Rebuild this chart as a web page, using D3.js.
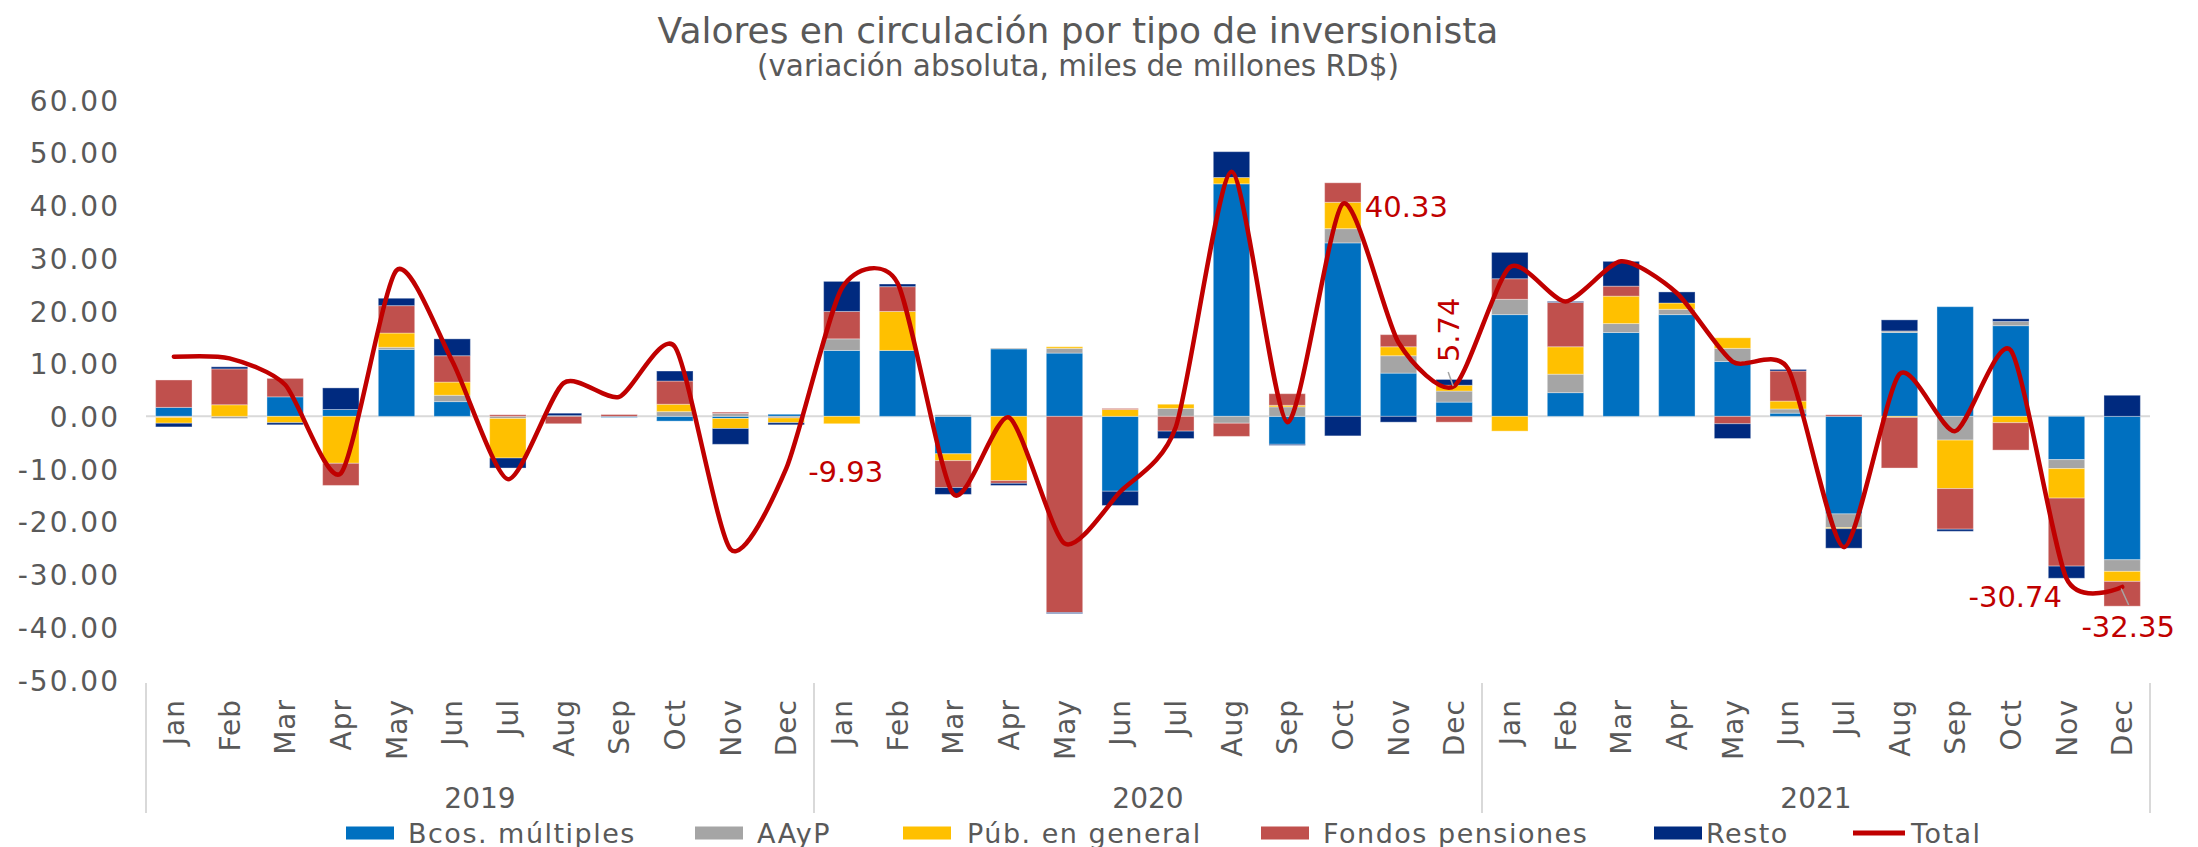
<!DOCTYPE html>
<html>
<head>
<meta charset="utf-8">
<script src="https://cdn.jsdelivr.net/npm/d3@7"></script>
<style>
  html, body { margin: 0; padding: 0; background: #ffffff; }
  svg { display: block; font-family: "DejaVu Sans", Verdana, sans-serif; }
</style>
</head>
<body>
<svg id="chart" width="2198" height="847"></svg>
<script>
// ---- data (miles de millones RD$) ----
const years = ["2019", "2020", "2021"];
const months = ["Jan", "Feb", "Mar", "Apr", "May", "Jun", "Jul", "Aug", "Sep", "Oct", "Nov", "Dec"];

const seriesNames = ["Bcos. múltiples", "AAyP", "Púb. en general", "Fondos pensiones", "Resto"];
const seriesColors = ["#0070C0", "#A5A5A5", "#FFC000", "#C0504D", "#002A7F"];

const bcosMultiples = [
  1.7, 0.0, 3.7, 1.3, 12.7, 2.8, 0.0, 0.15, -0.2, -0.9, -0.4, 0.4,
  12.5, 12.5, -7.1, 12.8, 12.0, -14.2, 0.0, 44.1, -5.3, 32.9, 8.2, 2.7,
  19.3, 4.5, 15.9, 19.3, 10.4, 0.6, -18.5, 15.9, 20.8, 17.2, -8.2, -27.2
];
const aayp = [
  -0.2, -0.4, 0.0, 0.0, 0.4, 1.2, -0.4, 0.0, 0.0, 0.9, 0.55, -0.3,
  2.2, 0.0, 0.3, 0.15, 0.9, 0.0, 1.5, -1.3, 1.8, 2.7, 3.3, 2.1,
  2.9, 3.5, 1.7, 1.0, 2.5, 0.8, -2.6, 0.3, -4.5, 0.8, -1.7, -2.2
];
const pubGeneral = [
  -1.1, 2.2, -1.2, -8.9, 2.7, 2.5, -7.5, 0.0, 0.0, 1.4, -1.9, -0.9,
  -1.4, 7.4, -1.3, -12.2, 0.3, 1.3, 0.8, 1.2, 0.3, 5.0, 1.7, 1.1,
  -2.8, 5.2, 5.2, 1.2, 2.0, 1.5, -0.2, -0.2, -9.2, -1.2, -5.6, -1.9
];
const fondosPensiones = [
  5.2, 6.8, 3.5, -4.2, 5.2, 5.0, 0.3, -1.4, 0.35, 4.4, 0.25, 0.0,
  5.2, 4.7, -5.1, -0.5, -37.2, 0.2, -2.8, -2.5, 2.2, 3.7, 2.3, -1.1,
  3.9, 8.4, 1.9, 0.0, -1.4, 5.7, 0.3, -9.6, -7.7, -5.2, -12.9, -4.7
];
const resto = [
  -0.7, 0.4, -0.4, 4.1, 1.4, 3.2, -1.9, 0.45, 0.0, 1.9, -3.0, -0.4,
  5.7, 0.5, -1.3, -0.4, -0.2, -2.7, -1.4, 4.9, -0.2, -3.7, -1.1, 1.1,
  5.0, 0.2, 4.7, 2.1, -2.8, 0.3, -3.7, 2.1, -0.4, 0.5, -2.3, 4.0
];
const total = [
  11.3, 11.0, 6.0, -10.8, 27.7, 10.5, -11.9, 6.3, 3.7, 13.2, -25.2, -9.93,
  24.3, 25.3, -14.7, -0.2, -24.1, -14.3, -2.0, 46.4, -1.1, 40.33, 14.0, 5.74,
  28.3, 21.8, 29.4, 23.4, 10.4, 9.0, -24.8, 8.0, -2.8, 12.5, -30.74, -32.35
];
const yTicks = [60, 50, 40, 30, 20, 10, 0, -10, -20, -30, -40, -50];

// ---- layout ----
const svg = d3.select("#chart");
const plotLeft = 146, plotRight = 2150, plotTop = 100, plotBottom = 680;
const axisY = 683;
const grey = "#595959";

const seriesKeys = ["bcos", "aayp", "pub", "fondos", "resto"];
const seriesValues = [bcosMultiples, aayp, pubGeneral, fondosPensiones, resto];

const categories = [];
years.forEach(yr => months.forEach(m => categories.push({ key: yr + "-" + m, year: yr, month: m })));

const rows = categories.map((c, i) => {
  const r = { key: c.key };
  seriesKeys.forEach((k, s) => { r[k] = seriesValues[s][i]; });
  return r;
});

const x = d3.scaleBand()
  .domain(categories.map(c => c.key))
  .range([plotLeft, plotRight])
  .paddingInner(0.346)
  .paddingOuter(0.173);

const y = d3.scaleLinear().domain([-50, 60]).range([plotBottom, plotTop]);
const bw = x.bandwidth();
const cx = k => x(k) + bw / 2;

// ---- titles ----
svg.append("text")
  .attr("x", 1078).attr("y", 43)
  .attr("text-anchor", "middle")
  .attr("font-size", 36).attr("fill", grey)
  .text("Valores en circulación por tipo de inversionista");
svg.append("text")
  .attr("x", 1078).attr("y", 76)
  .attr("text-anchor", "middle")
  .attr("font-size", 29.5).attr("fill", grey)
  .text("(variación absoluta, miles de millones RD$)");

// ---- zero line ----
svg.append("line")
  .attr("x1", plotLeft).attr("x2", plotRight)
  .attr("y1", y(0)).attr("y2", y(0))
  .attr("stroke", "#D9D9D9").attr("stroke-width", 2);

// ---- stacked bars ----
const stacked = d3.stack().keys(seriesKeys).offset(d3.stackOffsetDiverging)(rows);
const layers = svg.append("g").selectAll("g")
  .data(stacked)
  .join("g")
  .attr("fill", (d, i) => seriesColors[i]);

layers.selectAll("rect")
  .data(d => d.filter(p => p[1] !== p[0]))
  .join("rect")
  .attr("x", d => x(d.data.key))
  .attr("width", bw)
  .attr("y", d => y(Math.max(d[0], d[1])))
  .attr("height", d => Math.abs(y(d[0]) - y(d[1])))
  .attr("stroke", "#ffffff")
  .attr("stroke-opacity", 0.35)
  .attr("stroke-width", 1);

// ---- y axis ----
const yAxis = svg.append("g")
  .attr("transform", `translate(${plotLeft},0)`)
  .call(d3.axisLeft(y).tickValues(yTicks).tickSize(0).tickPadding(26).tickFormat(v => v.toFixed(2)));
yAxis.select(".domain").remove();
yAxis.selectAll("text")
  .attr("font-family", "DejaVu Sans, Verdana, sans-serif")
  .attr("font-size", 28)
  .attr("letter-spacing", 2)
  .attr("fill", grey)
  .attr("dy", "0.36em");

// ---- category axis (months) ----
const monthOf = new Map(categories.map(c => [c.key, c.month]));
const xAxis = svg.append("g")
  .attr("transform", `translate(0,${axisY})`)
  .call(d3.axisBottom(x).tickSize(0).tickFormat(k => monthOf.get(k)));
xAxis.select(".domain").remove();
xAxis.selectAll("text")
  .attr("font-family", "DejaVu Sans, Verdana, sans-serif")
  .attr("font-size", 28)
  .attr("letter-spacing", 1)
  .attr("fill", grey)
  .attr("text-anchor", "end")
  .attr("transform", "rotate(-90)")
  .attr("x", -16)
  .attr("y", 0)
  .attr("dy", "0.36em");

// year group separators and labels
const step = x.step();
d3.range(years.length + 1).forEach(k => {
  const sx = plotLeft + step * 12 * k;
  svg.append("line")
    .attr("x1", sx).attr("x2", sx)
    .attr("y1", axisY).attr("y2", 813)
    .attr("stroke", "#D9D9D9").attr("stroke-width", 2);
});
years.forEach((yr, k) => {
  svg.append("text")
    .attr("x", plotLeft + step * 12 * (k + 0.5))
    .attr("y", 808)
    .attr("text-anchor", "middle")
    .attr("font-size", 28).attr("fill", grey)
    .text(yr);
});

// ---- total line (smoothed) ----
const line = d3.line()
  .x((d, i) => cx(categories[i].key))
  .y(d => y(d))
  .curve(d3.curveCardinal.tension(0.3));
svg.append("path")
  .datum(total)
  .attr("d", line)
  .attr("fill", "none")
  .attr("stroke", "#C00000")
  .attr("stroke-width", 4.5)
  .attr("stroke-linejoin", "round")
  .attr("stroke-linecap", "round");

// ---- data labels on the total line ----
const red = "#C00000";
const fmt = v => v.toFixed(2);
const lbl = (i) => ({ px: cx(categories[i].key), py: y(total[i]), t: fmt(total[i]) });
const labels = svg.append("g").attr("font-size", 29).attr("fill", red);

let p = lbl(11);
labels.append("text").attr("x", p.px + 22).attr("y", p.py + 3).attr("dy", "0.36em").text(p.t);

p = lbl(21);
labels.append("text").attr("x", p.px + 22).attr("y", p.py + 3).attr("dy", "0.36em").text(p.t);

p = lbl(23);
svg.append("line")
  .attr("x1", p.px - 6).attr("y1", p.py - 14)
  .attr("x2", p.px - 1).attr("y2", p.py)
  .attr("stroke", "#A6A6A6").attr("stroke-width", 1.5);
labels.append("text")
  .attr("transform", `translate(${p.px - 5.7},${p.py - 24}) rotate(-90)`)
  .attr("text-anchor", "start")
  .attr("dy", "0.36em")
  .text(p.t);

p = lbl(34);
labels.append("text").attr("x", p.px - 4.5).attr("y", p.py + 18)
  .attr("text-anchor", "end").attr("dy", "0.36em").text(p.t);

p = lbl(35);
svg.append("line")
  .attr("x1", p.px - 1).attr("y1", p.py + 1.5)
  .attr("x2", p.px + 6.5).attr("y2", p.py + 18)
  .attr("stroke", "#A6A6A6").attr("stroke-width", 1.5);
labels.append("text").attr("x", p.px + 6).attr("y", p.py + 39.5)
  .attr("text-anchor", "middle").attr("dy", "0.36em").text(p.t);

// ---- legend ----
const legendY = 833;
const legendX = [346, 695, 903, 1261, 1654];
const legendTextGap = [62, 62, 64, 62, 52];
const legend = svg.append("g").attr("font-size", 27).attr("letter-spacing", 1.5).attr("fill", grey);
seriesNames.forEach((name, i) => {
  legend.append("rect")
    .attr("x", legendX[i]).attr("y", legendY - 6.5)
    .attr("width", 48).attr("height", 13)
    .attr("fill", seriesColors[i]);
  legend.append("text")
    .attr("x", legendX[i] + legendTextGap[i]).attr("y", legendY + 9.5)
    .text(name);
});
legend.append("line")
  .attr("x1", 1853).attr("x2", 1905)
  .attr("y1", legendY).attr("y2", legendY)
  .attr("stroke", red).attr("stroke-width", 5);
legend.append("text").attr("x", 1911).attr("y", legendY + 9.5).text("Total");
</script>
</body>
</html>
